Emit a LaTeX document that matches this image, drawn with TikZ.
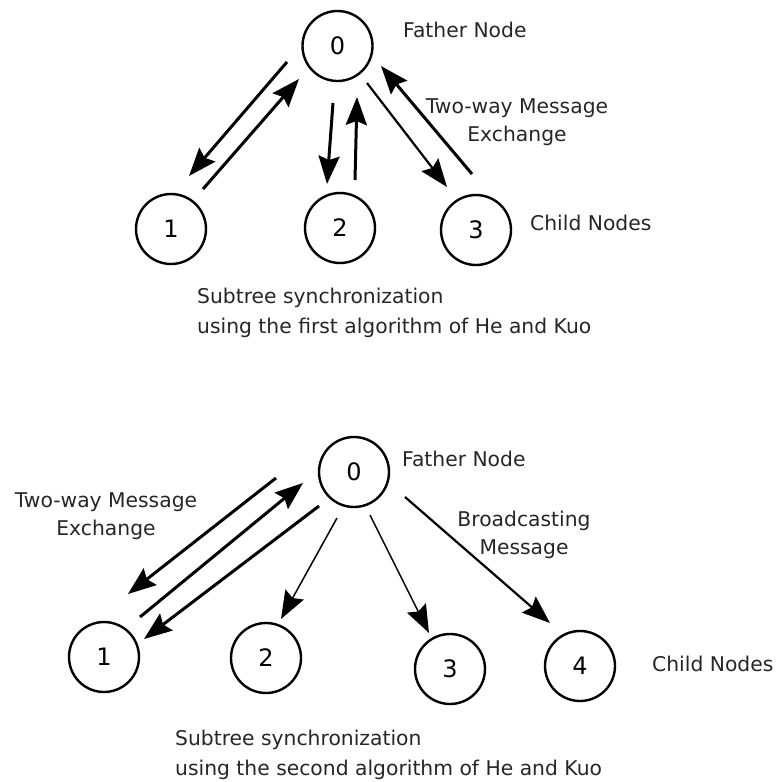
\documentclass[tikz,border=0pt]{standalone}
\usepackage{fontspec}
\setmainfont{DejaVu Sans}
\usetikzlibrary{arrows.meta}
\begin{document}
\begin{tikzpicture}[x=1pt,y=-1pt,
  peer/.style={circle,draw,line width=2.4pt,minimum size=70pt,inner sep=0pt,
    font=\fontsize{24}{24}\selectfont},
  lbl/.style={inner sep=0pt,text=black!85,font=\fontsize{20.3}{28}\selectfont},
  captext/.style={lbl,anchor=west,align=left,font=\fontsize{20.3}{30}\selectfont},
  head/.style={-{Stealth[length=28pt,width=21pt,inset=4pt]}},
  thick msg/.style={head,line width=3pt},
  mid msg/.style={head,line width=2.2pt},
  thin msg/.style={head,line width=1.5pt}]
\useasboundingbox (0,0) rectangle (776,782);

% ---------- first algorithm ----------
\node[peer] (a0) at (337.5,46) {0};
\node[peer] (a1) at (171,229) {1};
\node[peer] (a2) at (340,228) {2};
\node[peer] (a3) at (476,230) {3};

\node[lbl,anchor=west] (afather) at (403,30) {Father Node};
\node[lbl,anchor=west] (achild) at (530,223) {Child Nodes};
\node[lbl,align=center] (atwo) at (517,122) {Two-way Message\\Exchange};
\node[captext] (acap) at (197,313) {Subtree synchronization\\using the first algorithm of He and Kuo};

\coordinate (aAs) at (287,62);  \coordinate (aAe) at (189,176);
\coordinate (aBs) at (203,189); \coordinate (aBe) at (299,79);
\coordinate (aCs) at (333,103); \coordinate (aCe) at (327,184);
\coordinate (aDs) at (355,180); \coordinate (aDe) at (357,97);
\coordinate (aEs) at (367,83);  \coordinate (aEe) at (447,187);
\coordinate (aFs) at (472,174); \coordinate (aFe) at (381,66);

\draw[thick msg] (aAs) -- (aAe);
\draw[thick msg] (aBs) -- (aBe);
\draw[thick msg] (aCs) -- (aCe);
\draw[thick msg] (aDs) -- (aDe);
\draw[mid msg]   (aEs) -- (aEe);
\draw[thick msg] (aFs) -- (aFe);

% ---------- second algorithm ----------
\node[peer] (b0) at (354,472) {0};
\node[peer] (b1) at (104,657) {1};
\node[peer] (b2) at (266,658) {2};
\node[peer] (b3) at (450,669) {3};
\node[peer] (b4) at (580,666) {4};

\node[lbl,anchor=west] (bfather) at (402,459) {Father Node};
\node[lbl,anchor=west] (bchild) at (652,664) {Child Nodes};
\node[lbl,align=center] (btwo) at (106,516) {Two-way Message\\Exchange};
\node[lbl,align=center] (bcast) at (524,535) {Broadcasting\\Message};
\node[captext] (bcap) at (175,755) {Subtree synchronization\\using the second algorithm of He and Kuo};

\coordinate (bAs) at (276,478); \coordinate (bAe) at (128,594);
\coordinate (bBs) at (140,617); \coordinate (bBe) at (303,483);
\coordinate (bCs) at (319,506); \coordinate (bCe) at (144,639);
\coordinate (bDs) at (337,518); \coordinate (bDe) at (281,619);
\coordinate (bEs) at (370,515); \coordinate (bEe) at (429,633);
\coordinate (bFs) at (405,497); \coordinate (bFe) at (550,623);

\draw[thick msg] (bAs) -- (bAe);
\draw[thick msg] (bBs) -- (bBe);
\draw[thick msg] (bCs) -- (bCe);
\draw[thin msg]  (bDs) -- (bDe);
\draw[thin msg]  (bEs) -- (bEe);
\draw[mid msg]   (bFs) -- (bFe);
\end{tikzpicture}
\end{document}
